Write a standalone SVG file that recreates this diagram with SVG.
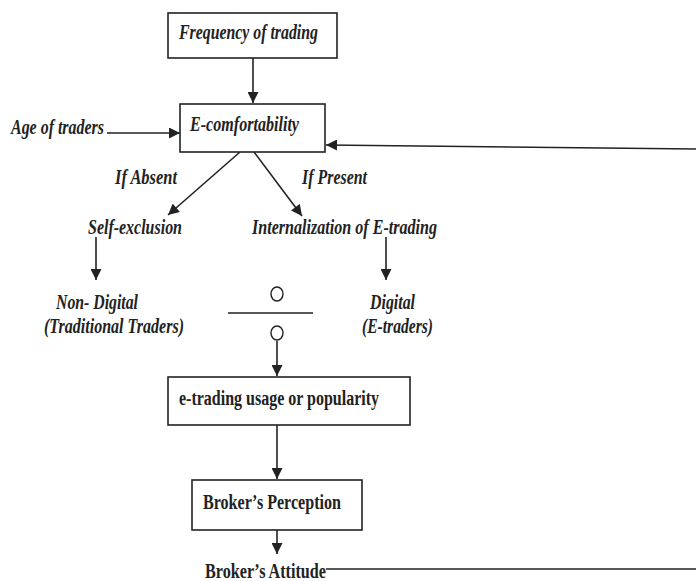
<svg xmlns="http://www.w3.org/2000/svg" width="696" height="581" viewBox="0 0 696 581">
<defs>
<style>
.box{fill:#fff;stroke:#222;stroke-width:1.6}
.ln{fill:none;stroke:#222;stroke-width:1.6}
.it{font-family:"Liberation Serif",serif;font-style:italic;font-weight:bold;font-size:20px;fill:#222}
.bd{font-family:"Liberation Serif",serif;font-weight:bold;font-size:20px;fill:#222}
</style>
<marker id="ah" viewBox="0 0 10 10" refX="10" refY="5" markerWidth="12" markerHeight="11" markerUnits="userSpaceOnUse" orient="auto">
<path d="M0,0 L10,5 L0,10 Z" fill="#222"/>
</marker>
</defs>
<rect width="696" height="581" fill="#fff"/>
<g id="connectors">
<line class="ln" x1="253" y1="58" x2="253" y2="103" marker-end="url(#ah)"/>
<line class="ln" x1="107" y1="133" x2="180" y2="133" marker-end="url(#ah)"/>
<line class="ln" x1="696" y1="149" x2="326" y2="145" marker-end="url(#ah)"/>
<line class="ln" x1="240" y1="152" x2="168" y2="215" marker-end="url(#ah)"/>
<line class="ln" x1="254" y1="152" x2="302" y2="216" marker-end="url(#ah)"/>
<line class="ln" x1="96" y1="237" x2="96" y2="280" marker-end="url(#ah)"/>
<line class="ln" x1="386" y1="237" x2="386" y2="280" marker-end="url(#ah)"/>
<line class="ln" x1="277" y1="341" x2="277" y2="376" marker-end="url(#ah)"/>
<line class="ln" x1="277" y1="425" x2="277" y2="479" marker-end="url(#ah)"/>
<line class="ln" x1="277" y1="530" x2="277" y2="554" marker-end="url(#ah)"/>
<line class="ln" x1="326" y1="569" x2="696" y2="569"/>
</g>
<g id="frequency">
<rect class="box" x="168" y="13" width="169" height="45"/>
<text class="it" x="179" y="39" textLength="139" lengthAdjust="spacingAndGlyphs">Frequency of trading</text>
</g>
<g id="ecomfort">
<rect class="box" x="180" y="104" width="145" height="48"/>
<text class="it" x="190" y="131" textLength="109" lengthAdjust="spacingAndGlyphs">E-comfortability</text>
</g>
<g id="age">
<text class="it" x="11" y="134" textLength="93" lengthAdjust="spacingAndGlyphs">Age of traders</text>
</g>
<g id="labels">
<text class="it" x="115" y="184" textLength="62" lengthAdjust="spacingAndGlyphs">If Absent</text>
<text class="it" x="302" y="184" textLength="65" lengthAdjust="spacingAndGlyphs">If Present</text>
</g>
<g id="selfexclusion">
<text class="it" x="88" y="234" textLength="94" lengthAdjust="spacingAndGlyphs">Self-exclusion</text>
</g>
<g id="internalization">
<text class="it" x="252" y="234" textLength="185" lengthAdjust="spacingAndGlyphs">Internalization of E-trading</text>
</g>
<g id="nondigital">
<text class="it" x="56" y="309" textLength="82" lengthAdjust="spacingAndGlyphs">Non- Digital</text>
<text class="it" x="44" y="333" textLength="140" lengthAdjust="spacingAndGlyphs">(Traditional Traders)</text>
</g>
<g id="digital">
<text class="it" x="370" y="309" textLength="45" lengthAdjust="spacingAndGlyphs">Digital</text>
<text class="it" x="362" y="333" textLength="71" lengthAdjust="spacingAndGlyphs">(E-traders)</text>
</g>
<g id="ratio">
<ellipse cx="277" cy="294" rx="6" ry="7" fill="none" stroke="#222" stroke-width="1.4"/>
<line class="ln" x1="228" y1="313" x2="313" y2="313"/>
<ellipse cx="277" cy="333" rx="6" ry="7" fill="none" stroke="#222" stroke-width="1.4"/>
</g>
<g id="usage">
<rect class="box" x="168" y="377" width="242" height="48"/>
<text class="bd" x="179" y="405" textLength="200" lengthAdjust="spacingAndGlyphs">e-trading usage or popularity</text>
</g>
<g id="perception">
<rect class="box" x="192" y="480" width="170" height="50"/>
<text class="bd" x="203" y="509" textLength="138" lengthAdjust="spacingAndGlyphs">Broker’s Perception</text>
</g>
<g id="attitude">
<text class="bd" x="205" y="578" textLength="121" lengthAdjust="spacingAndGlyphs">Broker’s Attitude</text>
</g>
</svg>
